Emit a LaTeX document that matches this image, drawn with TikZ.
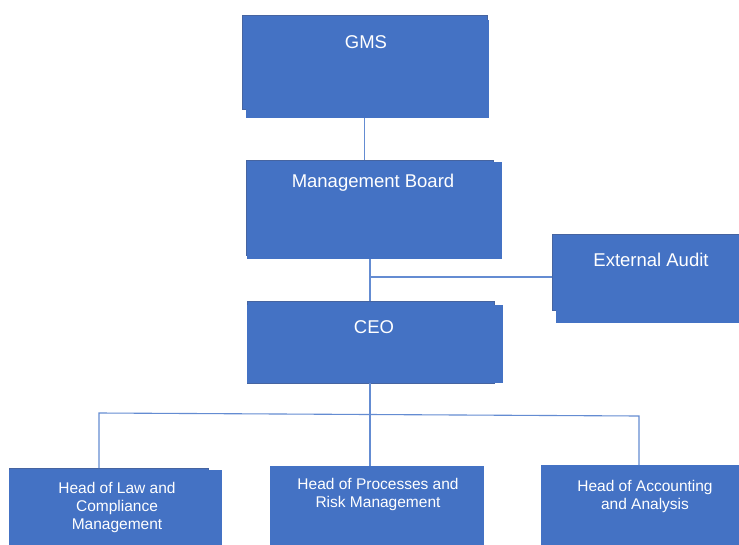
\documentclass[tikz,border=0pt]{standalone}
\usepackage{fontspec}
\setmainfont{Liberation Sans}
\usetikzlibrary{calc}
\definecolor{boxblue}{RGB}{68,114,196}
\definecolor{boxedge}{RGB}{70,100,160}
\definecolor{wire}{RGB}{100,140,210}
\tikzset{
  unit/.style={x=1pt,y=-1pt},
  box/.style={rectangle, fill=boxblue, draw=boxedge, line width=0.6pt, inner sep=0pt, outer sep=0pt},
  boxfill/.style={fill=boxblue},
  bigtxt/.style={text=white, font=\fontsize{18.5}{22}\selectfont, inner sep=0pt, align=center},
  smalltxt/.style={text=white, font=\fontsize{15.5}{18}\selectfont, inner sep=0pt, align=center},
  wireline/.style={draw=wire, line width=1.1pt}
}
\begin{document}
\begin{tikzpicture}[unit]
\useasboundingbox (0,0) rectangle (739,544);
\clip (0,0) rectangle (739,544);
\fill[white] (0,0) rectangle (739,544);

% GMS
\node[box, minimum width=245pt, minimum height=94pt] (gms) at (364.5,62) {};
\fill[boxfill] (246,20) rectangle (489,118) coordinate (gmsBR);
\node[bigtxt] (gmsT) at (366,42) {GMS};

% Management Board
\node[box, minimum width=247pt, minimum height=95pt] (mb) at (369.5,207.5) {};
\fill[boxfill] (247,162) rectangle (502,259) coordinate (mbBR);
\node[bigtxt] (mbT) at (373,183) {Management Board};

% External Audit
\node[box, minimum width=190pt, minimum height=76pt] (ea) at (647,272) {};
\fill[boxfill] (556,240) rectangle (739,323);
\node[bigtxt] (eaT) at (651,260) {External Audit};

% CEO
\node[box, minimum width=247pt, minimum height=82pt] (ceo) at (370.5,342) {};
\fill[boxfill] (247,305) rectangle (503,383);
\node[bigtxt] (ceoT) at (374,327) {CEO};

% Department heads
\node[box, minimum width=199pt, minimum height=80pt] (law) at (108.5,508) {};
\fill[boxfill] (9,470) rectangle (222,548);
\node[smalltxt] (lawT) at (117,507) {Head of Law and\\Compliance\\Management};

\node[box, draw=none, minimum width=214pt, minimum height=82pt] (proc) at (377,507) {};
\node[smalltxt] (procT) at (378,494) {Head of Processes and\\Risk Management};

\node[box, draw=none, minimum width=200pt, minimum height=84pt] (acc) at (641,507) {};
\node[smalltxt] (accT) at (645,496) {Head of Accounting\\and Analysis};

% connectors
\coordinate (spine) at (370,0);
\coordinate (audit) at (370,277);
\coordinate (busL) at (99,413);
\coordinate (busR) at (639,416);

\draw[wireline] (gms.south |- gmsBR) -- (gms.south |- mb.north);
\draw[wireline] (spine |- mbBR) -- (spine |- ceo.north);
\draw[wireline] (audit) -- (audit -| ea.west);
\draw[wireline] (spine |- ceo.south) -- (spine |- proc.north);
\draw[wireline] (busL |- law.north) -- (busL) -- (busR) -- (busR |- acc.north);
\end{tikzpicture}
\end{document}
